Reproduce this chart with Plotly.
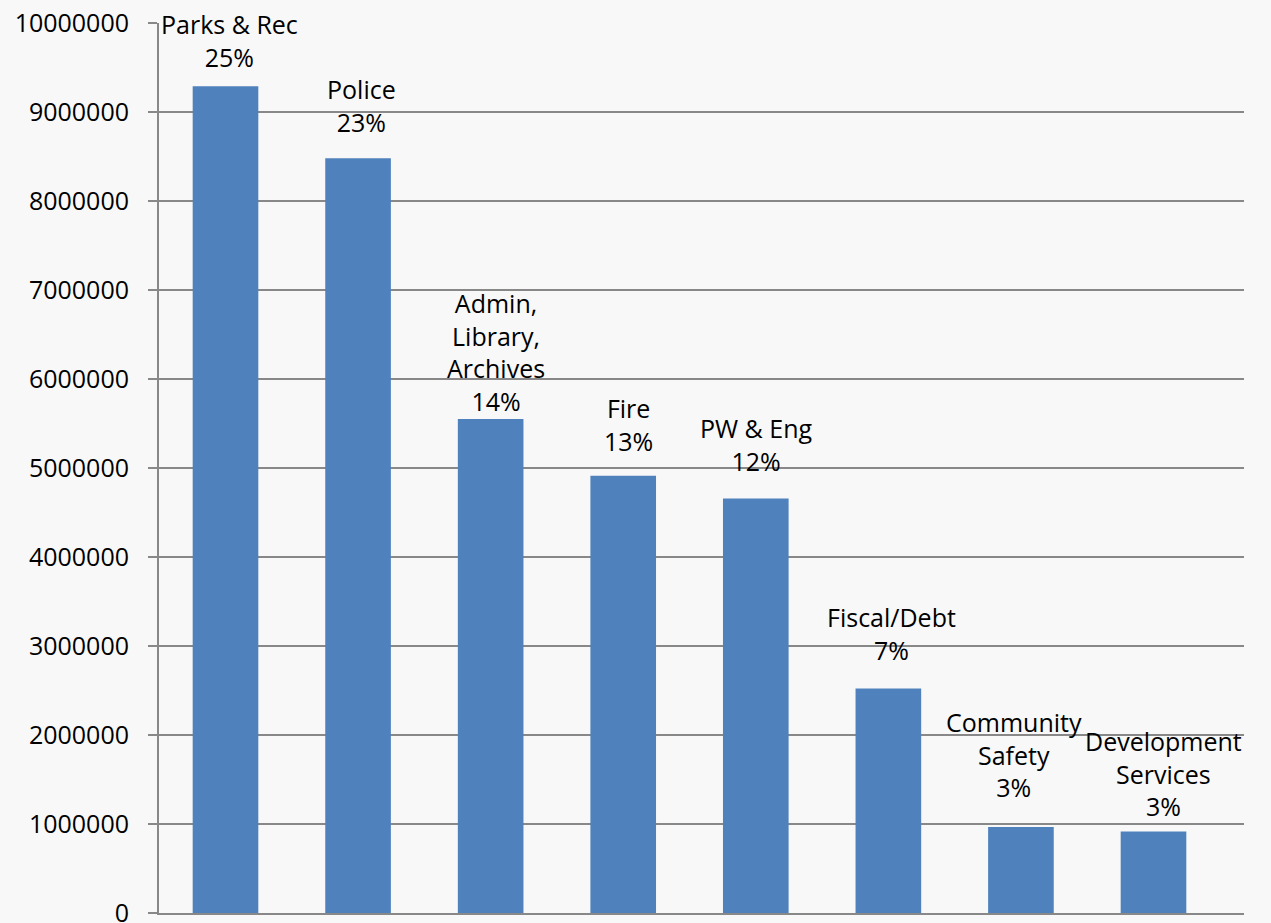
import plotly.graph_objects as go

categories = ["Parks & Rec", "Police", "Admin, Library, Archives", "Fire", "PW & Eng",
              "Fiscal/Debt", "Community Safety", "Development Services"]
label_names = ["Parks & Rec", "Police", "Admin,<br>Library,<br>Archives", "Fire", "PW & Eng",
               "Fiscal/Debt", "Community<br>Safety", "Development<br>Services"]
values = [9290000, 8480000, 5550000, 4914000, 4656000, 2523000, 966000, 917000]
percents = ["25%", "23%", "14%", "13%", "12%", "7%", "3%", "3%"]
y_ticks = list(range(0, 10000001, 1000000))

# label placement tweaks (pixels), style only
label_xshift = [4, 3, 5, 5, 1, 3, -7, 10]
label_yshift = [10, 17, -1, 16, 19, 19, 21, 6]

FONT = "Open Sans"
GRID = "#888888"

fig = go.Figure()
fig.add_trace(go.Bar(x=categories, y=values, marker=dict(color="#4f81bd", line=dict(width=0)),
                     hoverinfo="x+y"))

for c, v, n, p, dx, dy in zip(categories, values, label_names, percents, label_xshift, label_yshift):
    fig.add_annotation(x=c, y=v, text=f"{n}<br>{p}", showarrow=False, xanchor="center",
                       yanchor="bottom", xshift=dx, yshift=dy, align="center",
                       font=dict(family=FONT, size=25, color="#000000"))

fig.update_layout(
    width=1271, height=923,
    margin=dict(l=159, r=27, t=23, b=10, autoexpand=False),
    paper_bgcolor="#f8f8f8", plot_bgcolor="#f8f8f8",
    bargap=0.505, showlegend=False,
    font=dict(family=FONT, size=25, color="#000000"),
)
fig.update_xaxes(showticklabels=False, ticks="", showgrid=False, showline=True,
                 linecolor=GRID, linewidth=2, zeroline=False, automargin=False)
fig.update_yaxes(range=[0, 10000000], tickvals=y_ticks, tickformat="d", showgrid=True,
                 gridcolor=GRID, gridwidth=2, showline=True, linecolor=GRID, linewidth=2,
                 ticks="outside", ticklen=9, tickwidth=2, tickcolor=GRID, zeroline=False,
                 automargin=False, ticklabeloverflow="allow",
                 ticklabelstandoff=14, tickfont=dict(family=FONT, size=25, color="#000000"))

fig.write_html("out.html")
